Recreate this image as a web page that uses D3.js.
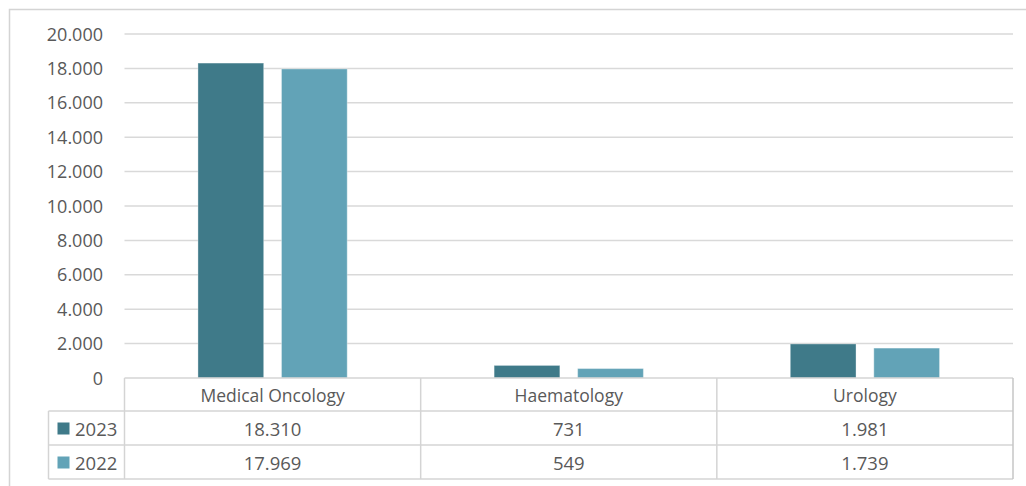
<!DOCTYPE html>
<html>
<head>
<meta charset="utf-8">
<script src="https://cdn.jsdelivr.net/npm/d3@7"></script>
<style>
  body { margin: 0; background: #fff; }
  svg { display: block; font-family: "Open Sans", sans-serif; }
</style>
</head>
<body>
<svg width="1026" height="486"></svg>
<script>
// Data
const categories = ["Medical Oncology", "Haematology", "Urology"];
const seriesNames = ["2023", "2022"];
const values2023 = [18310, 731, 1981];
const values2022 = [17969, 549, 1739];
const seriesColors = ["#3f7a89", "#62a3b7"];
const yTicks = [0, 2000, 4000, 6000, 8000, 10000, 12000, 14000, 16000, 18000, 20000];

const seriesValues = [values2023, values2022];

// Layout
const svg = d3.select("svg");
const plotLeft = 124.5, plotRight = 1013, plotTop = 34, plotBottom = 378;
const rowH = 34, headerH = 33, legendLeft = 48.5;
const textColor = "#595959";
const lineColor = "#d4d4d4";

// number format with '.' as thousands separator
const fmt = d3.formatLocale({ decimal: ",", thousands: ".", grouping: [3], currency: ["", ""] }).format(",d");

const y = d3.scaleLinear().domain([0, 20000]).range([plotBottom, plotTop]);
const x0 = d3.scaleBand().domain(categories).range([plotLeft, plotRight]).padding(0);
const bw = x0.bandwidth();
const x1 = d3.scaleBand().domain(seriesNames)
  .range([bw * 0.248, bw * 0.752]).paddingInner(0.213).paddingOuter(0);

// Outer chart border
svg.append("path")
  .attr("d", "M9.5,486 V9.5 H1026")
  .attr("fill", "none").attr("stroke", lineColor).attr("stroke-width", 1.5);

// Gridlines
svg.append("g").selectAll("line")
  .data(yTicks.filter(d => d > 0))
  .join("line")
  .attr("x1", plotLeft).attr("x2", plotRight)
  .attr("y1", d => y(d)).attr("y2", d => y(d))
  .attr("stroke", "#d9d9d9").attr("stroke-width", 1.5);

// Y axis labels
svg.append("g").selectAll("text")
  .data(yTicks)
  .join("text")
  .attr("x", 103).attr("y", d => y(d) + 6.5)
  .attr("text-anchor", "end")
  .attr("font-size", 18).attr("fill", textColor)
  .text(d => fmt(d));

// Bars
const groups = svg.append("g").selectAll("g")
  .data(categories)
  .join("g")
  .attr("transform", c => `translate(${x0(c)},0)`);

groups.selectAll("rect")
  .data((c, i) => seriesNames.map((s, j) => ({ s, v: seriesValues[j][i], j })))
  .join("rect")
  .attr("x", d => x1(d.s))
  .attr("width", x1.bandwidth())
  .attr("y", d => y(d.v))
  .attr("height", d => y(0) - y(d.v))
  .attr("fill", d => seriesColors[d.j])
  .attr("stroke", "#ffffff").attr("stroke-opacity", 0.35).attr("stroke-width", 1);

// Data table
const table = svg.append("g");
const tableBottom = plotBottom + headerH + rowH * seriesNames.length;

table.append("line")
  .attr("x1", plotLeft).attr("x2", plotRight).attr("y1", plotBottom).attr("y2", plotBottom)
  .attr("stroke", lineColor).attr("stroke-width", 1.5);
seriesNames.forEach((s, j) => {
  const yy = plotBottom + headerH + rowH * j;
  table.append("line")
    .attr("x1", legendLeft).attr("x2", plotRight).attr("y1", yy).attr("y2", yy)
    .attr("stroke", lineColor).attr("stroke-width", 1.5);
});
table.append("line")
  .attr("x1", legendLeft).attr("x2", plotRight).attr("y1", tableBottom).attr("y2", tableBottom)
  .attr("stroke", lineColor).attr("stroke-width", 1.5);

table.append("line")
  .attr("x1", legendLeft).attr("x2", legendLeft)
  .attr("y1", plotBottom + headerH).attr("y2", tableBottom)
  .attr("stroke", lineColor).attr("stroke-width", 1.5);
[plotLeft, ...categories.map(c => x0(c) + bw)].forEach((xx, i) => {
  table.append("line")
    .attr("x1", xx).attr("x2", xx).attr("y1", plotBottom).attr("y2", tableBottom)
    .attr("stroke", i === categories.length ? "#c6c6c6" : lineColor).attr("stroke-width", 1.5);
});

// header labels
table.selectAll("text.cat")
  .data(categories)
  .join("text")
  .attr("class", "cat")
  .attr("x", c => x0(c) + bw / 2)
  .attr("y", plotBottom + 24)
  .attr("text-anchor", "middle")
  .attr("font-size", 17.5).attr("fill", textColor)
  .text(c => c);

// rows
seriesNames.forEach((s, j) => {
  const rowTop = plotBottom + headerH + rowH * j;
  table.append("rect")
    .attr("x", 57.5).attr("y", rowTop + 11.5)
    .attr("width", 12).attr("height", 12)
    .attr("fill", seriesColors[j]);
  table.append("text")
    .attr("x", 75).attr("y", rowTop + 24.5)
    .attr("font-size", 18.5).attr("fill", textColor)
    .text(s);
  table.selectAll(null)
    .data(categories)
    .join("text")
    .attr("x", c => x0(c) + bw / 2)
    .attr("y", rowTop + 24.5)
    .attr("text-anchor", "middle")
    .attr("font-size", 18.5).attr("fill", textColor)
    .text((c, i) => fmt(seriesValues[j][i]));
});
</script>
</body>
</html>
